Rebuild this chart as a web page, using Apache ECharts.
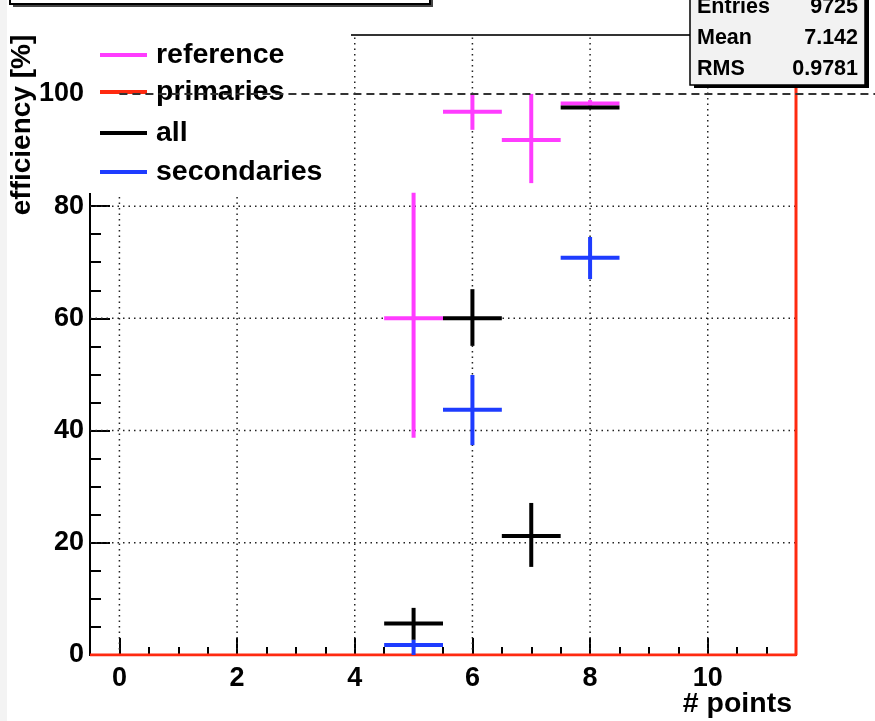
<!DOCTYPE html>
<html><head><meta charset="utf-8">
<script src="https://cdn.jsdelivr.net/npm/echarts@6/dist/echarts.min.js"></script>
<style>html,body{margin:0;padding:0;background:#fff}#c{width:875px;height:721px}</style>
</head><body><div id="c"></div>
<script>
// ---- data ----
const refX = [5, 6, 7, 8];
const refY = [60, 96.8, 91.8, 98.3];
const refErrLo = [21.3, 3.2, 7.7, 0.6];
const refErrHi = [22.4, 3.2, 8.2, 0.6];

const allX = [5, 6, 7, 8];
const allY = [5.6, 60, 21.2, 97.6];
const allErrLo = [2.9, 4.9, 5.5, 0.2];
const allErrHi = [2.8, 5.2, 5.9, 0.2];

const secX = [5, 6, 8];
const secY = [1.8, 43.7, 70.8];
const secErrLo = [1.8, 6.3, 3.8];
const secErrHi = [0.9, 6.2, 3.7];

const primX = [-0.5, 11.5, 11.5];
const primY = [0, 0, 110.5];

const xMajor = [0, 2, 4, 6, 8, 10];
const xMinor = [-0.5, 0.5, 1, 1.5, 2.5, 3, 3.5, 4.5, 5, 5.5, 6.5, 7, 7.5, 8.5, 9, 9.5, 10.5, 11, 11.5];
const yMajor = [0, 20, 40, 60, 80, 100];
const yMinor = [5, 10, 15, 25, 30, 35, 45, 50, 55, 65, 70, 75, 85, 90, 95, 105, 110];
const gridX = [0, 2, 4, 6, 8, 10];
const gridY = [20, 40, 60, 80];
const refLine = [[0, 100, 13]];

const stats = [['Entries', '9725'], ['Mean', '7.142'], ['RMS', '0.9781']];
const legendItems = [['reference', '#ff3cff'], ['primaries', '#ff2a10'], ['all', '#000000'], ['secondaries', '#1e3cff']];

const X_MIN = -0.5, X_MAX = 11.5, Y_MIN = 0, Y_MAX = 110.5;
const FONT = 'Liberation Sans, Arial, Helvetica, sans-serif';

function errData(xs, ys, lo, hi) {
  return xs.map((x, i) => [x, ys[i], ys[i] - lo[i], ys[i] + hi[i]]);
}
function errSeries(name, xs, ys, lo, hi, color, z) {
  return {
    type: 'custom', name, z,
    data: errData(xs, ys, lo, hi),
    encode: { x: 0, y: 1 },
    renderItem(params, api) {
      const x = api.value(0), y = api.value(1), l = api.value(2), h = api.value(3);
      const a = api.coord([x - 0.5, y]), b = api.coord([x + 0.5, y]);
      const t = api.coord([x, h]), d = api.coord([x, l]);
      const st = { stroke: color, lineWidth: 4 };
      return { type: 'group', children: [
        { type: 'line', shape: { x1: a[0], y1: a[1], x2: b[0], y2: b[1] }, style: st },
        { type: 'line', shape: { x1: t[0], y1: t[1], x2: d[0], y2: d[1] }, style: st }
      ]};
    }
  };
}

const chart = echarts.init(document.getElementById('c'), null, { renderer: 'canvas' });

const labelStyle = { fontSize: 27, fontWeight: 'bold', color: '#000', fontFamily: FONT };

const graphics = [];
graphics.push({ type: 'rect', z: 5, shape: { x: 0, y: 0, width: 7, height: 721 }, style: { fill: '#f3f3f3' } });
graphics.push({ type: 'rect', z: 10, shape: { x: 88, y: 0, width: 263, height: 193 }, style: { fill: '#fff' } });
const legY = [55, 92, 133, 172];
legendItems.forEach((it, i) => {
  graphics.push({ type: 'line', z: 11, shape: { x1: 100, y1: legY[i], x2: 147, y2: legY[i] }, style: { stroke: it[1], lineWidth: 4 } });
  graphics.push({ type: 'text', z: 11, x: 156, y: legY[i], style: { text: it[0], font: 'bold 28.5px ' + FONT, fill: '#000', align: 'left', verticalAlign: 'middle' } });
});
graphics.push({ type: 'text', z: 12, x: 22, y: 125, rotation: Math.PI / 2, style: { text: 'efficiency [%]', font: 'bold 28px ' + FONT, fill: '#000', align: 'center', verticalAlign: 'middle' } });
graphics.push({ type: 'text', z: 12, x: 792, y: 704, style: { text: '# points', font: 'bold 28.5px ' + FONT, fill: '#000', align: 'right', verticalAlign: 'middle' } });
graphics.push({ type: 'rect', z: 30, shape: { x: 13, y: -40, width: 420, height: 47 }, style: { fill: '#444' } });
graphics.push({ type: 'rect', z: 31, shape: { x: 10, y: -40, width: 420, height: 44 }, style: { fill: '#fff', stroke: '#000', lineWidth: 2 } });
graphics.push({ type: 'rect', z: 30, shape: { x: 694, y: -40, width: 175, height: 128 }, style: { fill: '#000' } });
graphics.push({ type: 'rect', z: 31, shape: { x: 690, y: -40, width: 175, height: 125 }, style: { fill: '#f2f2f2', stroke: '#000', lineWidth: 1.5 } });
const statY = [7, 38, 69];
stats.forEach((s, i) => {
  graphics.push({ type: 'text', z: 32, x: 697, y: statY[i], style: { text: s[0], font: 'bold 21.5px ' + FONT, fill: '#000', align: 'left', verticalAlign: 'middle' } });
  graphics.push({ type: 'text', z: 32, x: 858, y: statY[i], style: { text: s[1], font: 'bold 21.5px ' + FONT, fill: '#000', align: 'right', verticalAlign: 'middle' } });
});

const option = {
  backgroundColor: '#fff',
  animation: false,
  grid: { left: 90, right: 79, top: 35, bottom: 66, show: true, borderColor: '#333', borderWidth: 2, backgroundColor: 'transparent' },
  xAxis: [
    { type: 'value', min: X_MIN, max: X_MAX, position: 'bottom',
      axisLine: { show: true, onZero: false, lineStyle: { color: '#000', width: 2 } },
      axisTick: { show: true, inside: true, length: 17, customValues: xMajor, lineStyle: { color: '#000', width: 2 } },
      axisLabel: Object.assign({ customValues: xMajor, margin: 10 }, labelStyle),
      splitLine: { show: false } },
    { type: 'value', min: X_MIN, max: X_MAX, position: 'bottom',
      axisLine: { show: false, onZero: false },
      axisTick: { show: true, inside: true, length: 8, customValues: xMinor, lineStyle: { color: '#000', width: 2 } },
      axisLabel: { show: false }, splitLine: { show: false } }
  ],
  yAxis: [
    { type: 'value', min: Y_MIN, max: Y_MAX, position: 'left',
      axisLine: { show: true, onZero: false, lineStyle: { color: '#000', width: 2 } },
      axisTick: { show: true, inside: true, length: 20, customValues: yMajor, lineStyle: { color: '#000', width: 2 } },
      axisLabel: Object.assign({ customValues: yMajor, margin: 6 }, labelStyle),
      splitLine: { show: false } },
    { type: 'value', min: Y_MIN, max: Y_MAX, position: 'left',
      axisLine: { show: false, onZero: false },
      axisTick: { show: true, inside: true, length: 11, customValues: yMinor, lineStyle: { color: '#000', width: 2 } },
      axisLabel: { show: false }, splitLine: { show: false } }
  ],
  graphic: { elements: graphics },
  series: [
    { type: 'custom', name: 'gridX', z: 1, silent: true, data: gridX.map(v => [v]), encode: { x: 0 },
      renderItem(p, api) { const v = api.value(0); const a = api.coord([v, Y_MIN]), b = api.coord([v, Y_MAX]);
        return { type: 'line', shape: { x1: a[0], y1: a[1], x2: b[0], y2: b[1] }, style: { stroke: '#222', lineWidth: 1.5, lineDash: [1.5, 4] } }; } },
    { type: 'custom', name: 'gridY', z: 1, silent: true, data: gridY.map(v => [X_MIN, v]), encode: { x: 0, y: 1 },
      renderItem(p, api) { const v = api.value(1); const a = api.coord([X_MIN, v]), b = api.coord([X_MAX, v]);
        return { type: 'line', shape: { x1: a[0], y1: a[1], x2: b[0], y2: b[1] }, style: { stroke: '#222', lineWidth: 1.5, lineDash: [1.5, 4] } }; } },
    { type: 'line', name: 'primaries', z: 3, data: primX.map((x, i) => [x, primY[i]]), symbol: 'none',
      lineStyle: { color: '#ff2a10', width: 3 } },
    errSeries('reference', refX, refY, refErrLo, refErrHi, '#ff3cff', 4),
    errSeries('all', allX, allY, allErrLo, allErrHi, '#000000', 5),
    errSeries('secondaries', secX, secY, secErrLo, secErrHi, '#1e3cff', 6),
    { type: 'custom', name: 'line100', z: 20, silent: true, clip: false, data: refLine, encode: { x: 0, y: 1 },
      renderItem(p, api) { const a = api.coord([api.value(0), api.value(1)]), b = api.coord([api.value(2), api.value(1)]);
        return { type: 'line', shape: { x1: a[0], y1: a[1], x2: b[0], y2: b[1] }, style: { stroke: '#333', lineWidth: 2, lineDash: [8, 5] } }; } }
  ]
};
chart.setOption(option);
</script>
</body></html>
